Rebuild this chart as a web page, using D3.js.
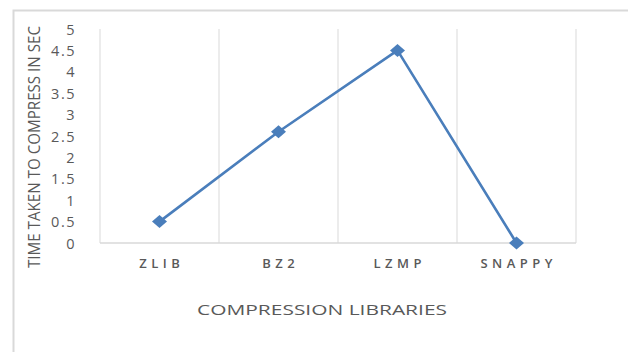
<!DOCTYPE html>
<html><head><meta charset="utf-8">
<script src="https://cdn.jsdelivr.net/npm/d3@7"></script>
<style>body{margin:0;background:#fff}svg{display:block}</style>
</head><body>
<svg id="c" width="628" height="352"></svg>
<script>
const categories = ["ZLIB", "BZ2", "LZMP", "SNAPPY"];
const times = [0.5, 2.6, 4.5, 0];
const yTicks = [0, 0.5, 1, 1.5, 2, 2.5, 3, 3.5, 4, 4.5, 5];
const xTitle = "COMPRESSION LIBRARIES";
const yTitle = "TIME TAKEN TO COMPRESS IN SEC";

const svg = d3.select("#c");
const L = 100, R = 576, T = 29, B = 243;
const grey = "#d9d9d9", txt = "#595959", blue = "#4a7ebb";

// outer frame (clipped at right/bottom like the reference)
svg.append("path").attr("d", "M13.5,352 V10.5 H628").attr("fill", "none")
  .attr("stroke", grey).attr("stroke-width", 2);

const x = d3.scaleBand().domain(categories).range([L, R]);
const y = d3.scaleLinear().domain([0, 5]).range([B, T]);

// vertical gridlines at band edges
const edges = categories.map(c => x(c)).concat([R]);
svg.append("g").selectAll("line").data(edges).join("line")
  .attr("x1", d => d).attr("x2", d => d).attr("y1", T).attr("y2", B)
  .attr("stroke", grey).attr("stroke-width", 1);
// baseline
svg.append("line").attr("x1", L).attr("x2", R).attr("y1", y(0)).attr("y2", y(0))
  .attr("stroke", grey).attr("stroke-width", 1.5);

// y tick labels
const yAxis = d3.axisLeft(y).tickValues(yTicks).tickSize(0).tickPadding(0)
  .tickFormat(d => String(d));
const gy = svg.append("g").attr("transform", `translate(${L - 24},0)`).call(yAxis);
gy.select(".domain").remove();
gy.selectAll("text").attr("fill", txt).attr("font-family", "'Open Sans', sans-serif")
  .attr("font-size", 14.5).attr("letter-spacing", 1.5).attr("dy", "0.35em");

// x tick labels
const xAxis = d3.axisBottom(x).tickSize(0).tickPadding(0);
const gx = svg.append("g").attr("transform", `translate(0,${B + 20})`).call(xAxis);
gx.select(".domain").remove();
gx.selectAll("text").attr("fill", txt).attr("font-family", "'Open Sans', sans-serif")
  .attr("font-size", 13).attr("font-weight", 600).attr("letter-spacing", 4.5).attr("dy", "0.35em")
  .attr("dx", 2.2);

// line
const cx = c => x(c) + x.bandwidth() / 2;
const line = d3.line().x((d, i) => cx(categories[i])).y(d => y(d));
svg.append("path").datum(times).attr("d", line).attr("fill", "none")
  .attr("stroke", blue).attr("stroke-width", 2.6).attr("stroke-linejoin", "round");

// diamond markers
svg.append("g").selectAll("path").data(times).join("path")
  .attr("transform", (d, i) => `translate(${cx(categories[i])},${y(d)})`)
  .attr("d", "M-7.5,0 L0,-6.5 L7.5,0 L0,6.5 Z").attr("fill", blue);

// axis titles
svg.append("text").attr("x", 322).attr("y", 315).attr("text-anchor", "middle")
  .attr("fill", txt).attr("font-family", "'Open Sans', sans-serif").attr("font-size", 14.5)
  .attr("textLength", 250).attr("lengthAdjust", "spacingAndGlyphs").text(xTitle);

svg.append("text").attr("transform", "translate(40,147) rotate(-90)")
  .attr("text-anchor", "middle").attr("fill", txt)
  .attr("font-family", "'Open Sans', sans-serif").attr("font-size", 16)
  .attr("textLength", 242).attr("lengthAdjust", "spacingAndGlyphs").text(yTitle);
</script>
</body></html>
